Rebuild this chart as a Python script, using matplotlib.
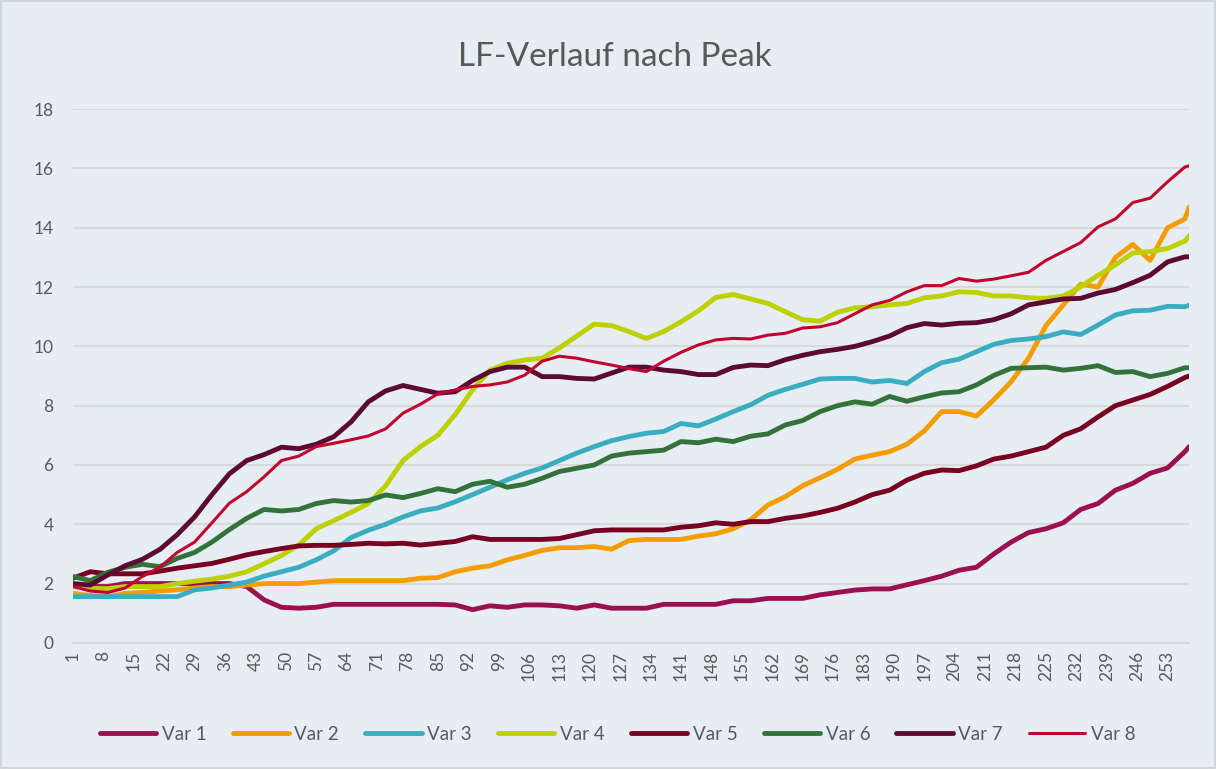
import matplotlib
matplotlib.use("Agg")
from matplotlib import pyplot as plt
from matplotlib.patches import Rectangle

plt.rcParams["font.family"] = ["Lato", "DejaVu Sans"]

# sample days (every 4th measurement + the last one)
days = list(range(1, 258, 4)) + [258]
tick_days = list(range(1, 259, 7))

var1 = [1.9, 1.9, 1.9, 2.0, 2.0, 2.0, 2.0, 2.0, 2.0, 2.0, 1.9, 1.45, 1.2, 1.17, 1.2, 1.3,
        1.3, 1.3, 1.3, 1.3, 1.3, 1.3, 1.28, 1.12, 1.25, 1.2, 1.28, 1.28, 1.25, 1.17, 1.28, 1.17,
        1.17, 1.17, 1.3, 1.3, 1.3, 1.3, 1.42, 1.42, 1.5, 1.5, 1.5, 1.62, 1.7, 1.78, 1.82, 1.82,
        1.96, 2.1, 2.25, 2.45, 2.55, 3.0, 3.4, 3.72, 3.85, 4.05, 4.5, 4.7, 5.15, 5.38, 5.72, 5.9,
        6.45, 6.62]
var2 = [1.67, 1.6, 1.56, 1.67, 1.7, 1.75, 1.79, 1.85, 1.9, 1.9, 1.95, 2.0, 2.0, 2.0, 2.05, 2.1,
        2.1, 2.1, 2.1, 2.1, 2.18, 2.2, 2.4, 2.52, 2.6, 2.8, 2.95, 3.12, 3.21, 3.21, 3.25, 3.16,
        3.45, 3.49, 3.49, 3.49, 3.6, 3.68, 3.85, 4.15, 4.65, 4.93, 5.3, 5.57, 5.85, 6.2, 6.33, 6.45,
        6.7, 7.15, 7.8, 7.8, 7.65, 8.2, 8.81, 9.6, 10.7, 11.4, 12.1, 12.0, 13.0, 13.44, 12.9, 14.0,
        14.3, 14.7]
var3 = [1.56, 1.56, 1.56, 1.56, 1.56, 1.56, 1.56, 1.79, 1.85, 1.95, 2.05, 2.25, 2.4, 2.55, 2.8, 3.1,
        3.55, 3.8, 4.0, 4.25, 4.45, 4.55, 4.76, 5.0, 5.25, 5.5, 5.72, 5.9, 6.15, 6.4, 6.62, 6.82,
        6.96, 7.07, 7.13, 7.4, 7.32, 7.55, 7.8, 8.03, 8.35, 8.55, 8.72, 8.9, 8.92, 8.92, 8.8, 8.85,
        8.75, 9.15, 9.45, 9.57, 9.82, 10.07, 10.2, 10.25, 10.33, 10.49, 10.4, 10.72, 11.06, 11.2, 11.22, 11.35,
        11.34, 11.39]
var4 = [1.9, 1.84, 1.83, 1.9, 1.9, 1.9, 2.0, 2.08, 2.15, 2.25, 2.4, 2.67, 2.95, 3.3, 3.85, 4.12,
        4.4, 4.7, 5.3, 6.15, 6.62, 7.0, 7.7, 8.53, 9.2, 9.43, 9.54, 9.6, 9.95, 10.35, 10.75, 10.7,
        10.5, 10.27, 10.5, 10.83, 11.2, 11.65, 11.75, 11.6, 11.45, 11.17, 10.9, 10.85, 11.15, 11.3, 11.34, 11.4,
        11.45, 11.64, 11.7, 11.84, 11.82, 11.7, 11.7, 11.64, 11.62, 11.7, 12.01, 12.4, 12.75, 13.15, 13.2, 13.3,
        13.55, 13.73]
var5 = [2.18, 2.4, 2.33, 2.33, 2.33, 2.42, 2.52, 2.6, 2.68, 2.82, 2.97, 3.08, 3.18, 3.27, 3.29, 3.29,
        3.32, 3.36, 3.34, 3.36, 3.3, 3.36, 3.42, 3.58, 3.49, 3.49, 3.49, 3.49, 3.52, 3.65, 3.78, 3.81,
        3.81, 3.81, 3.81, 3.9, 3.95, 4.05, 4.0, 4.09, 4.09, 4.2, 4.28, 4.4, 4.54, 4.75, 5.0, 5.15,
        5.49, 5.72, 5.83, 5.81, 5.97, 6.2, 6.3, 6.45, 6.6, 7.0, 7.22, 7.62, 8.0, 8.19, 8.38, 8.65,
        8.95, 9.0]
var6 = [2.24, 2.1, 2.38, 2.55, 2.65, 2.57, 2.85, 3.05, 3.4, 3.82, 4.2, 4.5, 4.45, 4.5, 4.7, 4.8,
        4.75, 4.8, 4.99, 4.9, 5.04, 5.2, 5.1, 5.35, 5.45, 5.25, 5.35, 5.55, 5.78, 5.89, 6.0, 6.3,
        6.4, 6.45, 6.5, 6.79, 6.75, 6.87, 6.79, 6.97, 7.05, 7.35, 7.5, 7.8, 8.0, 8.13, 8.05, 8.31,
        8.15, 8.3, 8.43, 8.47, 8.7, 9.02, 9.26, 9.28, 9.3, 9.2, 9.26, 9.35, 9.12, 9.15, 8.98, 9.09,
        9.28, 9.28]
var7 = [2.0, 1.95, 2.29, 2.6, 2.82, 3.15, 3.65, 4.25, 5.0, 5.7, 6.15, 6.35, 6.6, 6.55, 6.7, 6.95,
        7.45, 8.13, 8.5, 8.68, 8.55, 8.42, 8.47, 8.85, 9.15, 9.3, 9.3, 8.98, 8.98, 8.92, 8.9, 9.1,
        9.3, 9.3, 9.2, 9.15, 9.05, 9.05, 9.29, 9.37, 9.35, 9.55, 9.7, 9.82, 9.9, 10.0, 10.16, 10.35,
        10.63, 10.77, 10.72, 10.78, 10.8, 10.9, 11.1, 11.4, 11.5, 11.6, 11.62, 11.8, 11.92, 12.15, 12.4, 12.85,
        13.02, 13.02]
var8 = [1.9, 1.75, 1.7, 1.85, 2.24, 2.55, 3.05, 3.4, 4.05, 4.71, 5.1, 5.6, 6.15, 6.3, 6.62, 6.73,
        6.85, 6.98, 7.22, 7.75, 8.05, 8.4, 8.53, 8.65, 8.7, 8.8, 9.03, 9.5, 9.67, 9.6, 9.48, 9.37,
        9.25, 9.15, 9.5, 9.8, 10.05, 10.22, 10.27, 10.25, 10.38, 10.44, 10.62, 10.66, 10.8, 11.1, 11.4, 11.55,
        11.84, 12.05, 12.05, 12.29, 12.2, 12.27, 12.38, 12.5, 12.9, 13.2, 13.5, 14.03, 14.3, 14.85, 15.0, 15.55,
        16.05, 16.09]

series = [var1, var2, var3, var4, var5, var6, var7, var8]
names = ["Var 1", "Var 2", "Var 3", "Var 4", "Var 5", "Var 6", "Var 7", "Var 8"]
colors = ["#9A1050", "#F59D00", "#3BADC0", "#BDD000", "#780021", "#33733A", "#5C0A33", "#C0042F"]
widths = [3.5, 3.5, 3.5, 3.5, 3.5, 3.5, 3.5, 2.2]

bg = "#E6EEF4"
grey = "#595959"

fig = plt.figure(figsize=(12.16, 7.69), dpi=100, facecolor=bg)
ax = fig.add_axes([0.060, 0.164, 0.918, 0.694])
ax.set_facecolor(bg)

for vals, name, c, lw in zip(series, names, colors, widths):
    ax.plot(days, vals, color=c, lw=lw, label=name,
            solid_joinstyle="round", solid_capstyle="round")

ax.set_xlim(1, 258)
ax.set_ylim(0, 18)
ax.set_yticks(range(0, 19, 2))
ax.set_xticks(tick_days)
ax.set_xticklabels([str(d) for d in tick_days], rotation=90)
ax.grid(axis="y", color="#D9D9D9", lw=1.5)
ax.set_axisbelow(True)
for s in ["top", "right", "left"]:
    ax.spines[s].set_visible(False)
ax.spines["bottom"].set_color("#D9D9D9")
ax.spines["bottom"].set_linewidth(1.5)
ax.tick_params(axis="both", length=0, colors=grey, labelsize=12.5)
ax.tick_params(axis="y", pad=14)
ax.tick_params(axis="x", pad=6)

fig.text(0.506, 0.926, "LF-Verlauf nach Peak", ha="center", va="center",
         fontsize=24, color=grey)

fig.legend(loc="center", bbox_to_anchor=(0.508, 0.045), ncol=8, frameon=False,
           fontsize=13.5, handlelength=3.0, columnspacing=1.4, handletextpad=0.3,
           labelcolor=grey)

fig.patches.append(Rectangle((0.001, 0.001), 0.998, 0.998, transform=fig.transFigure,
                             fill=False, edgecolor="#D0D0D0", lw=1.2))

fig.savefig("out.png", dpi=100, facecolor=bg)
